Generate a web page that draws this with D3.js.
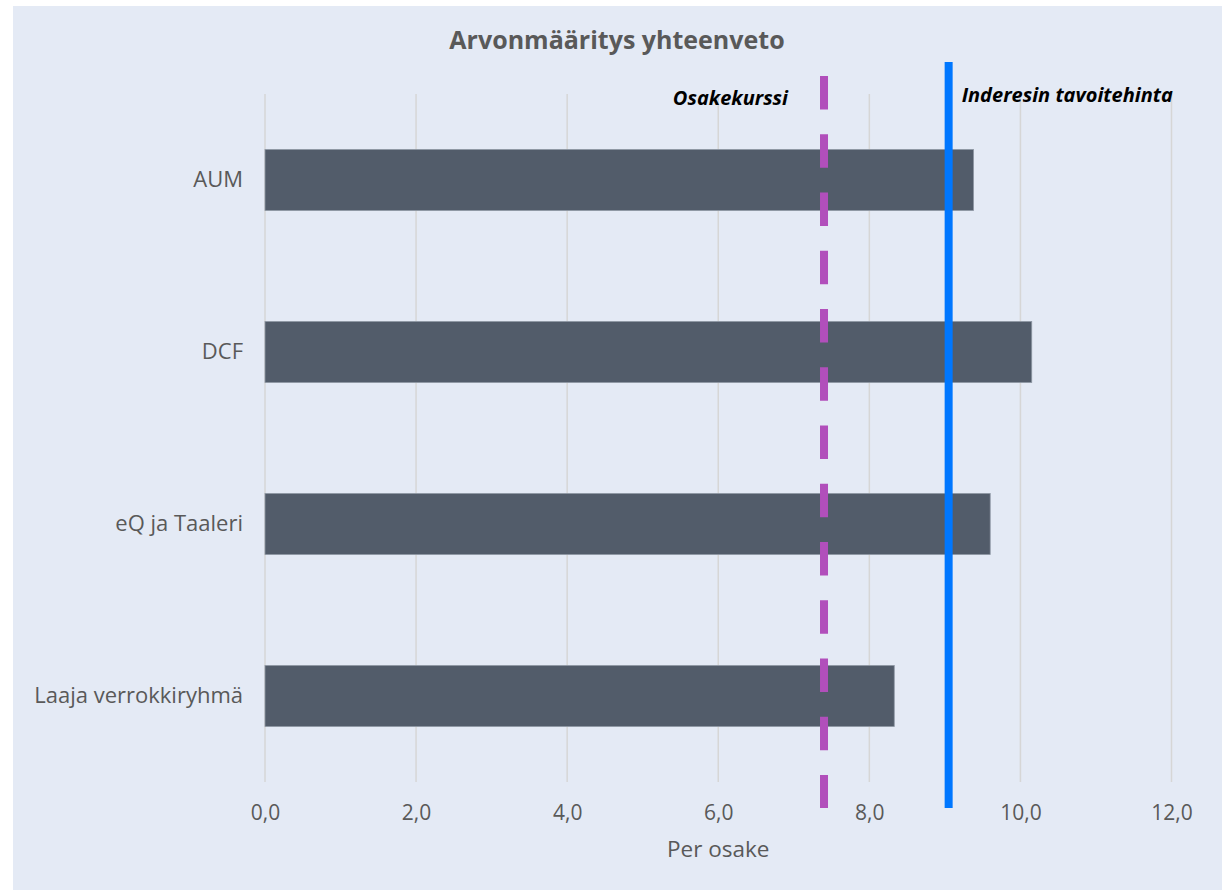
<!DOCTYPE html>
<html>
<head>
<meta charset="utf-8">
<script src="https://cdn.jsdelivr.net/npm/d3@7"></script>
<style>
  body { margin: 0; background: #fff; }
  svg text { font-family: "Open Sans", Lato, sans-serif; }
</style>
</head>
<body>
<div id="chart"></div>
<script>
// values
const categories = ["AUM", "DCF", "eQ ja Taaleri", "Laaja verrokkiryhmä"]
const values = [9.38, 10.15, 9.6, 8.33]
const xTicks = [0, 2, 4, 6, 8, 10, 12]
const sharePrice = 7.4      // Osakekurssi
const targetPrice = 9.05    // Inderesin tavoitehinta

let W = 1222, H = 890
let svg = d3.select("#chart").append("svg")
    .attr("width", W)
    .attr("height", H)

svg.append("rect")
    .attr("x", 13).attr("y", 6)
    .attr("width", W - 13).attr("height", H - 6)
    .attr("fill", "#e4eaf5")

let x = d3.scaleLinear().domain([0, 12]).range([265, 1171.5])
let y = d3.scaleBand().domain(categories).range([94, 782])
    .paddingInner(0.645).paddingOuter(0.3225)

// gridlines
svg.append("g").selectAll("line")
    .data(xTicks)
    .join("line")
    .attr("x1", d => x(d)).attr("x2", d => x(d))
    .attr("y1", 94).attr("y2", 782)
    .attr("stroke", "#d6d6d6")
    .attr("stroke-width", 1.5)

// bars
svg.append("g").selectAll("rect")
    .data(values)
    .join("rect")
    .attr("x", x(0))
    .attr("y", (d, i) => y(categories[i]))
    .attr("width", d => x(d) - x(0))
    .attr("height", y.bandwidth())
    .attr("fill", "#525c6a")
    .attr("stroke", "#8f98a5")
    .attr("stroke-width", 0.8)

// x axis labels
let xAxis = d3.axisBottom(x)
    .tickValues(xTicks)
    .tickSize(0)
    .tickPadding(0)
    .tickFormat(d => d3.format(".1f")(d).replace(".", ","))
let gx = svg.append("g").attr("transform", "translate(0,820)").call(xAxis)
gx.select(".domain").remove()
gx.selectAll("text")
    .attr("dy", 0)
    .attr("font-size", 21)
    .attr("fill", "#595959")
    .style("font-family", "'Open Sans', sans-serif")

// y axis labels
let yAxis = d3.axisLeft(y).tickSize(0).tickPadding(22)
let gy = svg.append("g").attr("transform", `translate(${x(0)},0)`).call(yAxis)
gy.select(".domain").remove()
gy.selectAll("text")
    .attr("font-size", 22)
    .attr("fill", "#595959")
    .style("font-family", "'Open Sans', sans-serif")

// share price (dashed) and target price lines
svg.append("line")
    .attr("x1", x(sharePrice)).attr("x2", x(sharePrice))
    .attr("y1", 76).attr("y2", 808)
    .attr("stroke", "#b14fbb")
    .attr("stroke-width", 8)
    .attr("stroke-dasharray", "33.5,24.75")

svg.append("line")
    .attr("x1", x(targetPrice)).attr("x2", x(targetPrice))
    .attr("y1", 62).attr("y2", 808)
    .attr("stroke", "#0077ff")
    .attr("stroke-width", 8)

svg.append("text")
    .attr("x", x(sharePrice) - 36).attr("y", 105)
    .attr("text-anchor", "end")
    .attr("font-size", 20)
    .attr("font-weight", "bold")
    .attr("font-style", "italic")
    .attr("fill", "#000")
    .text("Osakekurssi")

svg.append("text")
    .attr("x", x(targetPrice) + 13).attr("y", 102)
    .attr("font-size", 20)
    .attr("font-weight", "bold")
    .attr("font-style", "italic")
    .attr("fill", "#000")
    .text("Inderesin tavoitehinta")

// titles
svg.append("text")
    .attr("x", 617).attr("y", 49)
    .attr("text-anchor", "middle")
    .attr("font-size", 25)
    .attr("font-weight", "bold")
    .attr("fill", "#595959")
    .text("Arvonmääritys yhteenveto")

svg.append("text")
    .attr("x", x(6)).attr("y", 857)
    .attr("text-anchor", "middle")
    .attr("font-size", 22.5)
    .attr("fill", "#595959")
    .text("Per osake")
</script>
</body>
</html>
